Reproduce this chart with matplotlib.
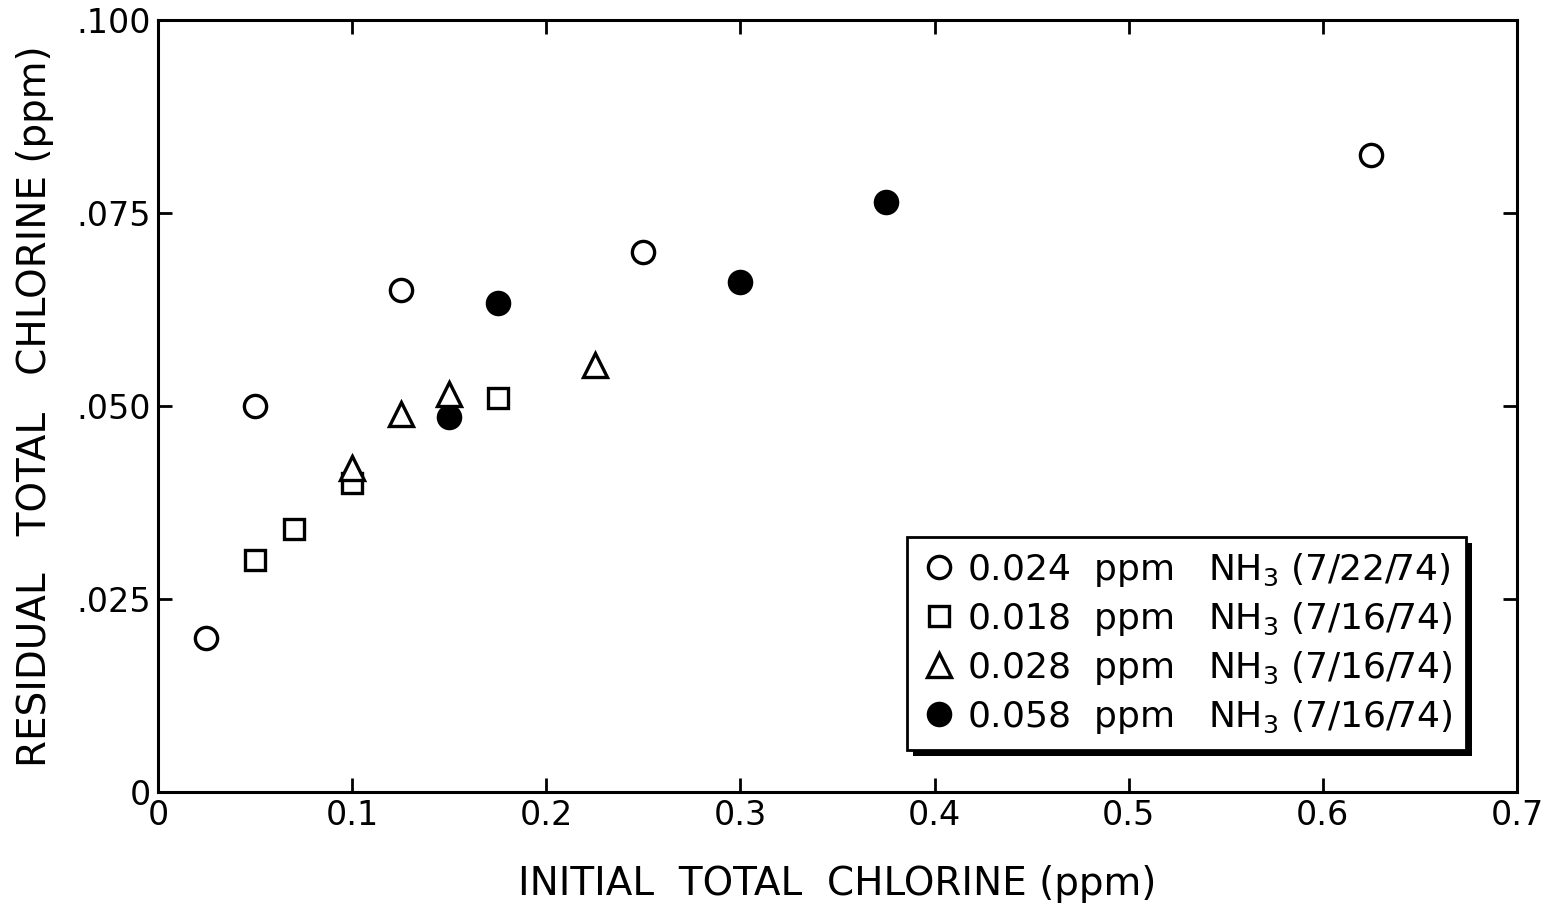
import matplotlib
matplotlib.use("Agg")
import matplotlib.pyplot as plt
from matplotlib.patches import Rectangle

plt.rcParams['font.family'] = 'DejaVu Sans'
plt.rcParams['mathtext.default'] = 'regular'

# Data
x_024 = [0.025, 0.05, 0.125, 0.25, 0.625]
y_024 = [0.020, 0.050, 0.065, 0.070, 0.0825]

x_018 = [0.05, 0.07, 0.10, 0.175]
y_018 = [0.030, 0.034, 0.040, 0.051]

x_028 = [0.10, 0.125, 0.15, 0.225]
y_028 = [0.042, 0.049, 0.0515, 0.0553]

x_058 = [0.15, 0.175, 0.30, 0.375]
y_058 = [0.0486, 0.0633, 0.066, 0.0764]

labels = [r'0.024  ppm   NH$_3$ (7/22/74)',
          r'0.018  ppm   NH$_3$ (7/16/74)',
          r'0.028  ppm   NH$_3$ (7/16/74)',
          r'0.058  ppm   NH$_3$ (7/16/74)']

x_ticks = [0, 0.1, 0.2, 0.3, 0.4, 0.5, 0.6, 0.7]
x_ticklabels = ['0', '0.1', '0.2', '0.3', '0.4', '0.5', '0.6', '0.7']
y_ticks = [0, 0.025, 0.050, 0.075, 0.100]
y_ticklabels = ['0', '.025', '.050', '.075', '.100']

fig = plt.figure(figsize=(15.53, 9.05), dpi=100)
ax = fig.add_axes([0.1017, 0.1249, 0.8751, 0.853])

ms = 16
mew = 2.4
ax.plot(x_024, y_024, 'o', ms=ms, mfc='white', mec='black', mew=mew, ls='none', label=labels[0], zorder=3)
ax.plot(x_018, y_018, 's', ms=ms - 1, mfc='white', mec='black', mew=mew, ls='none', label=labels[1], zorder=3)
ax.plot(x_028, y_028, '^', ms=ms + 1, mfc='white', mec='black', mew=mew, ls='none', label=labels[2], zorder=4)
ax.plot(x_058, y_058, 'o', ms=ms, mfc='black', mec='black', mew=mew, ls='none', label=labels[3], zorder=3)

ax.set_xlim(0, 0.7)
ax.set_ylim(0, 0.100)
ax.set_xticks(x_ticks)
ax.set_xticklabels(x_ticklabels)
ax.set_yticks(y_ticks)
ax.set_yticklabels(y_ticklabels)

ax.tick_params(direction='in', length=10, width=2, labelsize=24, pad=5,
               top=True, right=True)
for sp in ax.spines.values():
    sp.set_linewidth(2.2)

ax.set_xlabel('INITIAL  TOTAL  CHLORINE (ppm)', fontsize=28, labelpad=24)
ax.set_ylabel('RESIDUAL   TOTAL   CHLORINE (ppm)', fontsize=28, labelpad=16)

leg = ax.legend(loc='lower right', bbox_to_anchor=(0.9625, 0.0544),
                borderaxespad=0, fontsize=26, frameon=True, fancybox=False,
                edgecolor='black', framealpha=1, handletextpad=0.25,
                labelspacing=0.3, borderpad=0.4, handlelength=1.0)
leg.get_frame().set_linewidth(2)
leg.set_zorder(6)

# drop shadow to the lower right of the legend box
fig.canvas.draw()
bb = leg.get_window_extent().transformed(ax.transAxes.inverted())
dx = 6 / (ax.get_window_extent().width)
dy = 6 / (ax.get_window_extent().height)
ax.add_patch(Rectangle((bb.x0 + dx, bb.y0 - dy), bb.width, bb.height,
                       transform=ax.transAxes, facecolor='black',
                       edgecolor='none', zorder=5.5))

fig.savefig('out.png', dpi=100)
